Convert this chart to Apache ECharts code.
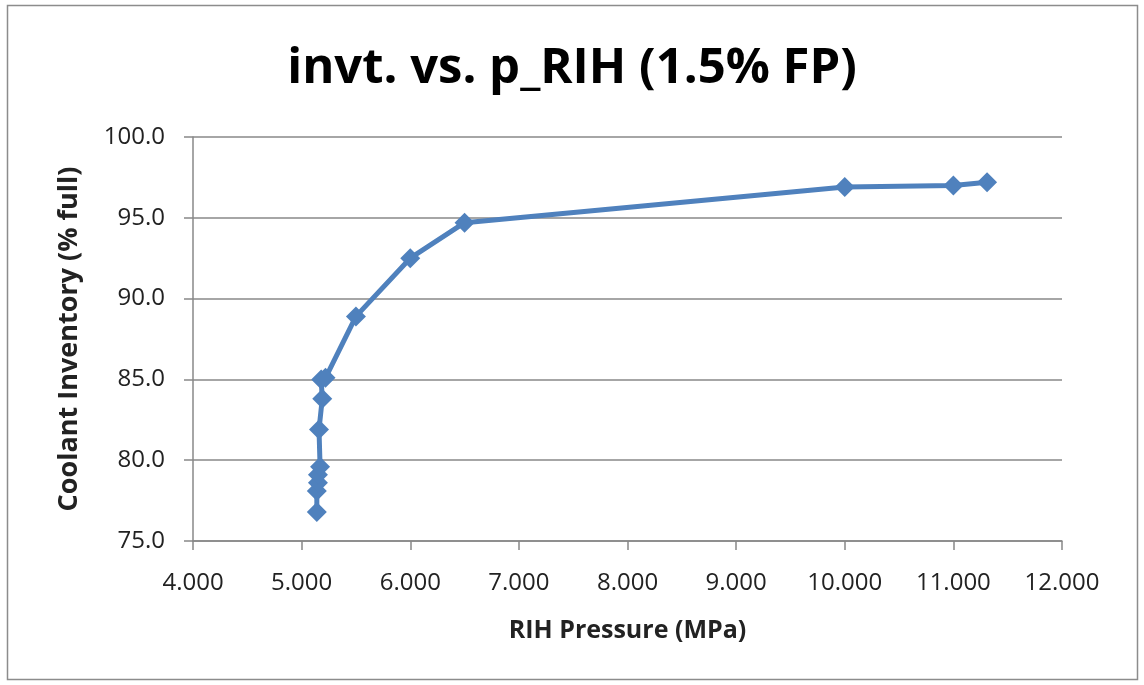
<!DOCTYPE html>
<html>
<head>
<meta charset="utf-8">
<script src="https://cdn.jsdelivr.net/npm/echarts@6/dist/echarts.min.js"></script>
<style>
  html, body { margin: 0; padding: 0; background: #fff; }
  #chart { width: 1144px; height: 685px; }
</style>
</head>
<body>
<div id="chart"></div>
<script>
// RIH pressure (MPa) and coolant inventory (% full)
const pressure = [5.14, 5.14, 5.15, 5.15, 5.17, 5.16, 5.19, 5.18, 5.22, 5.50, 6.00, 6.50, 10.00, 11.00, 11.31];
const inventory = [76.8, 78.1, 78.6, 79.1, 79.6, 81.9, 83.8, 85.0, 85.1, 88.9, 92.5, 94.7, 96.9, 97.0, 97.2];
const xTicks = [4, 12, 1];
const yTicks = [75, 100, 5];

const chart = echarts.init(document.getElementById('chart'));
const font = '"Open Sans", sans-serif';

chart.setOption({
    textStyle: { fontFamily: font },
    graphic: [{
        type: 'rect',
        shape: { x: 7.5, y: 5.5, width: 1130, height: 674 },
        style: { fill: 'none', stroke: '#8c8c8c', lineWidth: 1.5 },
        silent: true
    }],
    title: {
        text: 'invt. vs. p_RIH (1.5% FP)',
        left: 'center',
        top: 40,
        textStyle: { fontFamily: font, fontSize: 49, fontWeight: 'bold', color: '#000' }
    },
    grid: { left: 193, right: 82, top: 137, bottom: 144 },
    xAxis: {
        type: 'value',
        min: xTicks[0],
        max: xTicks[1],
        interval: xTicks[2],
        name: 'RIH Pressure (MPa)',
        nameLocation: 'middle',
        nameGap: 77,
        nameTextStyle: { fontFamily: font, fontSize: 25, fontWeight: 'bold', color: '#222' },
        axisLine: { show: true, lineStyle: { color: '#888', width: 1.5 } },
        axisTick: { show: true, length: 9, lineStyle: { color: '#888', width: 1.5 } },
        splitLine: { show: false },
        axisLabel: {
            fontSize: 24, color: '#222', margin: 30,
            formatter: v => v.toFixed(3)
        }
    },
    yAxis: {
        type: 'value',
        min: yTicks[0],
        max: yTicks[1],
        interval: yTicks[2],
        name: 'Coolant Inventory (% full)',
        nameLocation: 'middle',
        nameGap: 110,
        nameTextStyle: { fontFamily: font, fontSize: 27, fontWeight: 'bold', color: '#222' },
        axisLine: { show: true, lineStyle: { color: '#888', width: 1.5 } },
        axisTick: { show: true, length: 9, lineStyle: { color: '#888', width: 1.5 } },
        splitLine: { show: true, lineStyle: { color: '#888', width: 1.5 } },
        axisLabel: {
            fontSize: 24, color: '#222', margin: 28,
            formatter: v => v.toFixed(1)
        }
    },
    series: [{
        type: 'line',
        data: pressure.map((p, i) => [p, inventory[i]]),
        symbol: 'diamond',
        symbolSize: 20,
        lineStyle: { color: '#4f81bd', width: 5 },
        itemStyle: { color: '#4f81bd' },
        animation: false
    }]
});
</script>
</body>
</html>
